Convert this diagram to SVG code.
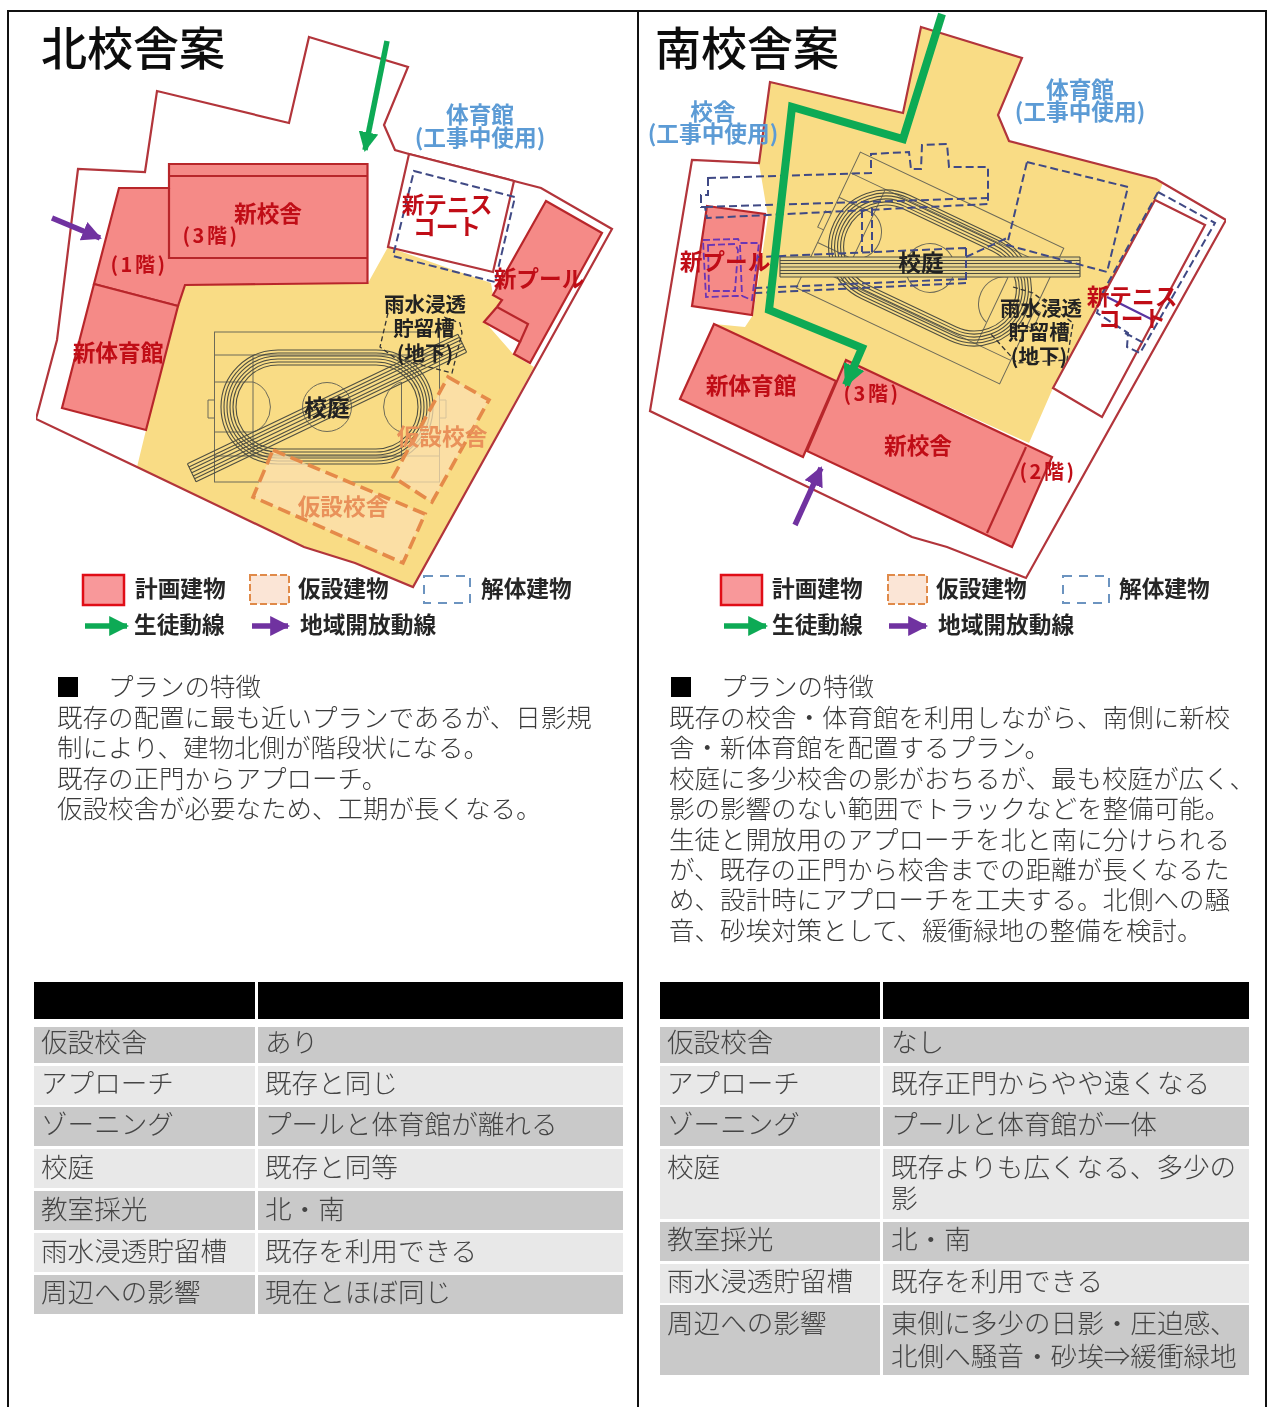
<svg xmlns="http://www.w3.org/2000/svg" width="1268" height="1407" viewBox="0 0 1268 1407">
<style>
text{font-family:"Noto Sans CJK JP","Noto Sans",sans-serif}
.title{font-size:46px;font-weight:500;fill:#111}
.lb{font-size:22.7px;font-weight:700;text-anchor:middle}
.sm{font-size:20.500px;font-weight:700;text-anchor:middle;fill:#222}
.red{fill:#c00d18}
.blue{fill:#5b9bd5}
.blk{fill:#222}
.org{fill:#e9915a}
.fl{font-size:20px;font-weight:700;text-anchor:middle;fill:#c00d18;letter-spacing:2.500px}
.leg{font-size:22.7px;font-weight:700;fill:#262626}
.body{font-size:25.500px;font-weight:300;fill:#3a3a3a}
.cell{font-size:26.600px;font-weight:300;fill:#444}
.site{fill:none;stroke:#b2343a;stroke-width:2.2;stroke-linejoin:miter}
.yel{fill:#f9dc85}
.bld{fill:#f58a87;stroke:#b8272c;stroke-width:2.2}
.ln{fill:none;stroke:#b8272c;stroke-width:2.2}
.court{fill:#fff;stroke:#b2343a;stroke-width:2.2}
.dem{fill:none;stroke:#3f4a85;stroke-width:2;stroke-dasharray:8 4}
.dem2{fill:none;stroke:#6a35b5;stroke-width:1.8;stroke-dasharray:7 3}
.tmp{fill:#fbe0b0;fill-opacity:.75;stroke:#e58a4a;stroke-width:3.6;stroke-dasharray:13 6}
.und{fill:none;stroke:#333;stroke-width:1.3;stroke-dasharray:5 3}
.tk{fill:none;stroke:#4f4f42;stroke-width:1.100}
.fr{fill:none;stroke:#6d6a58;stroke-width:1}
.g{fill:none;stroke:#0eaa55;stroke-width:5.5}
.gb{fill:none;stroke:#0eaa55;stroke-width:8;stroke-linejoin:miter}
.p{fill:none;stroke:#7030a0;stroke-width:5.5}
.r1{fill:#c9c9c9}.r2{fill:#e8e8e8}.hd{fill:#000}
.bd{fill:none;stroke:#111;stroke-width:2}
</style>
<defs>
<filter id="soft" x="0" y="0" width="100%" height="100%"><feGaussianBlur stdDeviation="0.55"/></filter>
<filter id="soft2" x="0" y="0" width="100%" height="100%"><feGaussianBlur stdDeviation="0.35"/></filter>
<marker id="ag" viewBox="0 0 10 10" refX="9" refY="5" markerWidth="3.6" markerHeight="3.6" orient="auto"><path d="M0,0L10,5L0,10Z" fill="#0eaa55"/></marker>
<marker id="ag2" viewBox="0 0 10 10" refX="9" refY="5" markerWidth="2.8" markerHeight="2.8" orient="auto"><path d="M0,0L10,5L0,10Z" fill="#0eaa55"/></marker>
<marker id="ap" viewBox="0 0 10 10" refX="9" refY="5" markerWidth="3.6" markerHeight="3.6" orient="auto"><path d="M0,0L10,5L0,10Z" fill="#7030a0"/></marker>
<g id="field">
<rect class="fr" x="-112.5" y="-75" width="225" height="150"/>
<path class="fr" d="M-112.5,-52H112.5M-112.5,49H112.5M-74,-52V49M74.500,-25V49M-112.500,-25H-74M-112.500,25H-74M-112.500,-7H-119V11H-112.500M112.500,-7H119V11H112.500"/>
<path class="fr" d="M-74,-25A24,26 0 0 1 -74,25M74,-25A24,26 0 0 0 74,25"/>
<circle class="fr" cx="0" cy="0" r="24.500"/>
</g>
<g id="oval">
<rect class="tk" x="-106" y="-57" width="212" height="114" rx="57"/>
<rect class="tk" x="-103" y="-54" width="206" height="108" rx="54"/>
<rect class="tk" x="-100" y="-51" width="200" height="102" rx="51"/>
<rect class="tk" x="-97" y="-48" width="194" height="96" rx="48"/>
<rect class="tk" x="-94" y="-45" width="188" height="90" rx="45"/>
<rect class="tk" x="-91" y="-42" width="182" height="84" rx="42"/>
</g>
<g id="sprint">
<rect x="-150" y="-10" width="300" height="20"/>
<path class="tk" d="M-150,-10H150M-150,-6.500H150M-150,-3.500H150M-150,0H150M-150,3.500H150M-150,6.500H150M-150,10H150M-150,-10V10M150,-10V10"/>
</g>
</defs>

<rect width="1268" height="1407" fill="#fff"/>
<g id="frame">
<path class="bd" d="M8,1407V11H1266V1407M638,11V1407"/>
</g>

<g id="plans" filter="url(#soft)">
<g id="plan-north">
<text class="title" x="41" y="65">北校舎案</text>
<path id="n-yard" class="yel" d="M388,247L491,283L493,295L502,300L485,322L514,355L534,367L413,587L355,563L304,547L137,467L146,430L178,306L183,285L368,283Z"/>
<path id="n-site" class="site" d="M309,37L408,67L384,125L395,150L409,154L514,181L541,188L612,229L413,587L355,563L304,547L137,467L36,419L57,340L78,169L145,172L157,91L289,123Z"/>
<g id="n-school">
<path class="bld" d="M119,188H169V164H367.500V283L185,285L178,306L94,284Z"/>
<path class="ln" d="M169,176H367.500M169,188V258H367.500"/>
<text class="lb red" x="268" y="222">新校舎</text>
<text class="fl" x="211" y="243">(3階)</text>
<text class="fl" x="139" y="272">(1階)</text>
</g>
<g id="n-gym">
<path class="bld" d="M94,284L178,306L146,430L62,408Z"/>
<text class="lb red" x="118" y="361">新体育館</text>
</g>
<g id="n-tennis">
<path class="court" d="M409,154L514,181L493,272L388,247Z"/>
<path class="dem" d="M414,171L515,197L495,282L393,256Z"/>
<text class="lb red" x="447" y="213">新テニス</text>
<text class="lb red" x="447" y="235">コート</text>
</g>
<g id="n-pool">
<path class="bld" d="M546,201L602,233L530,363L514,354L520,342L484,322L497,307L502,300L493,295Z"/>
<path class="ln" d="M497,307L528,324L520,342"/>
<text class="lb red" x="539" y="287">新プール</text>
</g>
<g id="n-track">
<g transform="translate(327,407)"><use href="#field"/><use href="#oval"/></g>
<g transform="translate(327,408) rotate(-25.600)" fill="none"><use href="#sprint"/></g>
<path class="und" d="M388,313L380,347L395,358L452,373L462,333L460,323L444,317"/>
<text class="lb blk" x="327" y="416">校庭</text>
<text class="sm" x="425" y="312">雨水浸透</text>
<text class="sm" x="424" y="336">貯留槽</text>
<text class="sm" x="425" y="361">(地下)</text>
</g>
<g id="n-temp-1">
<path class="tmp" d="M448,377L489,400L432,502L393,477Z"/>
<text class="lb org" x="442" y="445">仮設校舎</text>
</g>
<g id="n-temp-2">
<path class="tmp" d="M273,450L425,514L403,563L253,497Z"/>
<text class="lb org" x="343" y="515">仮設校舎</text>
</g>
<text class="lb blue" x="480" y="123">体育館</text>
<text class="lb blue" x="480" y="146">(工事中使用)</text>
</g>

<g id="plan-south">
<text class="title" x="655" y="65">南校舎案</text>
<path id="s-yard" class="yel" d="M770,82L903,113L921,27L1022,58L998,115L1009,141L1156,179L1163,183L1156,200L1053,388L1029,443L846,360L836,381L714,324L745,327L753,315L768,217L759,163Z"/>
<path id="s-site" class="site" d="M921,27L1022,58L998,115L1009,141L1156,179L1226,220L1026,578L947,547L912,537L679,425L650,411L692,160L759,163L770,82L903,113Z"/>
<g id="s-pool">
<path class="bld" d="M707,206L765,214L752,315L692,306Z"/>
</g>
<g id="s-tennis">
<path class="court" d="M1155,200L1205,225L1102,417L1053,388Z"/>
</g>
<g id="s-gym">
<path class="bld" d="M714,324L836,381L803,457L680,399Z"/>
<text class="lb red" x="751" y="394">新体育館</text>
</g>
<g id="s-school">
<path class="bld" d="M846,360L1052,457L1012,547L807,451Z"/>
<path class="ln" d="M1026,447L987,533"/>
<text class="lb red" x="918" y="454">新校舎</text>
<text class="fl" x="872" y="401">(3階)</text>
<text class="fl" x="1048" y="479">(2階)</text>
</g>
<g id="s-track">
<g transform="translate(930,268) rotate(25.300)"><use href="#field"/><use href="#oval"/></g>
<g transform="translate(930,267)" fill="#e8d48c"><use href="#sprint"/></g>
</g>
<g id="s-demolish">
<path class="dem" d="M708,178L871,173L871,154L909,152L911,169L921,169L922,145L947,144L949,167L988,167L988,204L707,218L705,207L701,207L701,195L708,195Z"/>
<path class="dem" d="M705,207L988,198"/>
<path class="dem" d="M1027,162L1128,187L1107,272L1007,245Z"/>
<path class="dem" d="M966,257L1007,238M966,248V283M966,248L758,257M966,283L755,293M966,279L755,288M862,210V252M872,208V253"/>
<path class="dem" d="M1158,192L1215,223L1140,353L1127,347L1128,333L1097,313L1103,292Z"/>
<path class="dem" d="M1125,333L1144,343"/>
<path class="dem2" d="M703,240L738,239L740,243L759,243L752,300L742,296L735,296L706,297Z"/>
<path class="dem2" d="M708,245L735,244L738,250L735,291L709,291ZM740,245L742,296"/>
<path d="M1107,297L1153,320" fill="none" stroke="#5a35a0" stroke-width="2.2"/>
</g>
<path class="und" d="M1013,287L1033,293L1073,323L1067,360L1017,363L990,333"/>
<text class="lb blk" x="921" y="271">校庭</text>
<text class="sm" x="1041" y="316">雨水浸透</text>
<text class="sm" x="1039" y="340">貯留槽</text>
<text class="sm" x="1039" y="364">(地下)</text>
<text class="lb red" x="725" y="270">新プール</text>
<text class="lb red" x="1132" y="305">新テニス</text>
<text class="lb red" x="1132" y="327">コート</text>
<text class="lb blue" x="713" y="120">校舎</text>
<text class="lb blue" x="713" y="142">(工事中使用)</text>
<text class="lb blue" x="1080" y="98">体育館</text>
<text class="lb blue" x="1080" y="120">(工事中使用)</text>
</g>

<g id="connectors">
<path class="g" d="M387,41L365,150" marker-end="url(#ag)"/>
<path class="p" d="M52,218L100,238" marker-end="url(#ap)"/>
<path class="gb" d="M942,14L903,139L792,107L769,310L862,348L846,385" marker-end="url(#ag2)"/>
<path class="p" d="M795,525L821,468" marker-end="url(#ap)"/>
<path class="g" d="M85,626H127" marker-end="url(#ag)"/>
<path class="p" d="M252,626H288" marker-end="url(#ap)"/>
<path class="g" d="M724,626H766" marker-end="url(#ag)"/>
<path class="p" d="M889,626H926" marker-end="url(#ap)"/>
</g>

<g id="legend-north">
<rect x="83" y="575" width="41" height="30" fill="#f8989a" stroke="#e01018" stroke-width="2.5"/>
<text class="leg" x="135" y="597">計画建物</text>
<rect x="250" y="575" width="39" height="29" fill="#fbe5d6" stroke="#e08a4a" stroke-width="2" stroke-dasharray="7 3"/>
<text class="leg" x="298" y="597">仮設建物</text>
<rect x="424" y="576" width="46" height="27" fill="none" stroke="#6c94c0" stroke-width="2" stroke-dasharray="9 7"/>
<text class="leg" x="481" y="597">解体建物</text>
<text class="leg" x="134" y="633">生徒動線</text>
<text class="leg" x="300" y="633">地域開放動線</text>
</g>
<g id="legend-south">
<rect x="721" y="575" width="41" height="30" fill="#f8989a" stroke="#e01018" stroke-width="2.5"/>
<text class="leg" x="772" y="597">計画建物</text>
<rect x="888" y="575" width="39" height="29" fill="#fbe5d6" stroke="#e08a4a" stroke-width="2" stroke-dasharray="7 3"/>
<text class="leg" x="936" y="597">仮設建物</text>
<rect x="1063" y="576" width="46" height="27" fill="none" stroke="#6c94c0" stroke-width="2" stroke-dasharray="9 7"/>
<text class="leg" x="1119" y="597">解体建物</text>
<text class="leg" x="772" y="633">生徒動線</text>
<text class="leg" x="938" y="633">地域開放動線</text>
</g>
</g>

<g id="lower" filter="url(#soft2)">
<g id="notes-north">
<rect x="58" y="677" width="20" height="20" fill="#000"/>
<text class="body" x="108" y="696">プランの特徴</text>
<text class="body" x="57" y="727">既存の配置に最も近いプランであるが、日影規</text>
<text class="body" x="57" y="757">制により、建物北側が階段状になる。</text>
<text class="body" x="57" y="788">既存の正門からアプローチ。</text>
<text class="body" x="57" y="818">仮設校舎が必要なため、工期が長くなる。</text>
</g>
<g id="notes-south">
<rect x="671" y="677" width="20" height="20" fill="#000"/>
<text class="body" x="721" y="696">プランの特徴</text>
<text class="body" x="669" y="727">既存の校舎・体育館を利用しながら、南側に新校</text>
<text class="body" x="669" y="757">舎・新体育館を配置するプラン。</text>
<text class="body" x="669" y="788">校庭に多少校舎の影がおちるが、最も校庭が広く、</text>
<text class="body" x="669" y="818">影の影響のない範囲でトラックなどを整備可能。</text>
<text class="body" x="669" y="849">生徒と開放用のアプローチを北と南に分けられる</text>
<text class="body" x="669" y="879">が、既存の正門から校舎までの距離が長くなるた</text>
<text class="body" x="669" y="909">め、設計時にアプローチを工夫する。北側への騒</text>
<text class="body" x="669" y="940">音、砂埃対策として、緩衝緑地の整備を検討。</text>
</g>

<g id="table-north">
<rect class="hd" x="34" y="982" width="221" height="37"/><rect class="hd" x="258" y="982" width="365" height="37"/>
<rect class="r1" x="34" y="1027" width="221" height="36"/><rect class="r1" x="258" y="1027" width="365" height="36"/>
<rect class="r2" x="34" y="1066" width="221" height="39"/><rect class="r2" x="258" y="1066" width="365" height="39"/>
<rect class="r1" x="34" y="1107" width="221" height="39"/><rect class="r1" x="258" y="1107" width="365" height="39"/>
<rect class="r2" x="34" y="1149" width="221" height="39"/><rect class="r2" x="258" y="1149" width="365" height="39"/>
<rect class="r1" x="34" y="1191" width="221" height="39"/><rect class="r1" x="258" y="1191" width="365" height="39"/>
<rect class="r2" x="34" y="1233" width="221" height="39"/><rect class="r2" x="258" y="1233" width="365" height="39"/>
<rect class="r1" x="34" y="1275" width="221" height="39"/><rect class="r1" x="258" y="1275" width="365" height="39"/>
<text class="cell" x="41" y="1052">仮設校舎</text><text class="cell" x="265" y="1052">あり</text>
<text class="cell" x="41" y="1093">アプローチ</text><text class="cell" x="265" y="1093">既存と同じ</text>
<text class="cell" x="41" y="1134">ゾーニング</text><text class="cell" x="265" y="1134">プールと体育館が離れる</text>
<text class="cell" x="41" y="1177">校庭</text><text class="cell" x="265" y="1177">既存と同等</text>
<text class="cell" x="41" y="1219">教室採光</text><text class="cell" x="265" y="1219">北・南</text>
<text class="cell" x="41" y="1261">雨水浸透貯留槽</text><text class="cell" x="265" y="1261">既存を利用できる</text>
<text class="cell" x="41" y="1302">周辺への影響</text><text class="cell" x="265" y="1302">現在とほぼ同じ</text>
</g>
<g id="table-south">
<rect class="hd" x="660" y="982" width="220" height="37"/><rect class="hd" x="883" y="982" width="366" height="37"/>
<rect class="r1" x="660" y="1027" width="220" height="36"/><rect class="r1" x="883" y="1027" width="366" height="36"/>
<rect class="r2" x="660" y="1066" width="220" height="39"/><rect class="r2" x="883" y="1066" width="366" height="39"/>
<rect class="r1" x="660" y="1107" width="220" height="39"/><rect class="r1" x="883" y="1107" width="366" height="39"/>
<rect class="r2" x="660" y="1149" width="220" height="70"/><rect class="r2" x="883" y="1149" width="366" height="70"/>
<rect class="r1" x="660" y="1222" width="220" height="39"/><rect class="r1" x="883" y="1222" width="366" height="39"/>
<rect class="r2" x="660" y="1264" width="220" height="39"/><rect class="r2" x="883" y="1264" width="366" height="39"/>
<rect class="r1" x="660" y="1305" width="220" height="70"/><rect class="r1" x="883" y="1305" width="366" height="70"/>
<text class="cell" x="667" y="1052">仮設校舎</text><text class="cell" x="891" y="1052">なし</text>
<text class="cell" x="667" y="1093">アプローチ</text><text class="cell" x="891" y="1093">既存正門からやや遠くなる</text>
<text class="cell" x="667" y="1134">ゾーニング</text><text class="cell" x="891" y="1134">プールと体育館が一体</text>
<text class="cell" x="667" y="1177">校庭</text><text class="cell" x="891" y="1177">既存よりも広くなる、多少の</text><text class="cell" x="891" y="1208">影</text>
<text class="cell" x="667" y="1249">教室採光</text><text class="cell" x="891" y="1249">北・南</text>
<text class="cell" x="667" y="1291">雨水浸透貯留槽</text><text class="cell" x="891" y="1291">既存を利用できる</text>
<text class="cell" x="667" y="1333">周辺への影響</text><text class="cell" x="891" y="1333">東側に多少の日影・圧迫感、</text><text class="cell" x="891" y="1366">北側へ騒音・砂埃⇒緩衝緑地</text>
</g>
</g>
</svg>
